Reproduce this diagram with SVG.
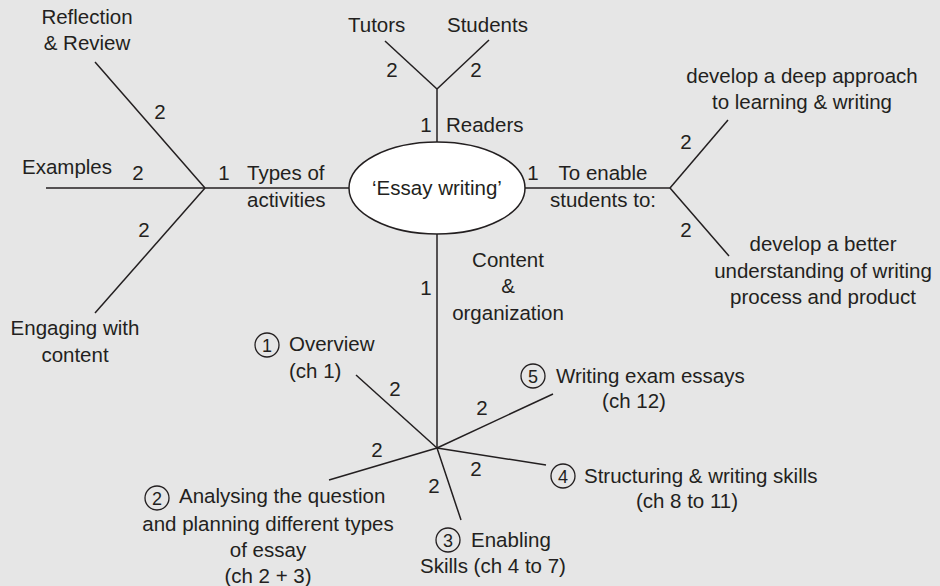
<svg xmlns="http://www.w3.org/2000/svg" width="940" height="586" viewBox="0 0 940 586">
<style>
text{font-family:"Liberation Sans",Arial,sans-serif;font-size:20.5px;fill:#231f20}
.c{text-anchor:middle}
.d{text-anchor:middle;font-size:18px}
.ln{stroke:#231f20;stroke-width:1.5;fill:none}
.cir{stroke:#231f20;stroke-width:1.3;fill:none}
</style>
<rect width="940" height="586" fill="#e6e6e6"/>
<g id="connectors">
<line class="ln" x1="349" y1="188" x2="205" y2="188"/>
<line class="ln" x1="46" y1="188" x2="205" y2="188"/>
<line class="ln" x1="95" y1="62" x2="205" y2="188"/>
<line class="ln" x1="205" y1="188" x2="95" y2="313"/>
<line class="ln" x1="437" y1="142" x2="437" y2="89"/>
<line class="ln" x1="385" y1="41" x2="437" y2="89"/>
<line class="ln" x1="437" y1="89" x2="489" y2="40"/>
<line class="ln" x1="525" y1="188" x2="670" y2="188"/>
<line class="ln" x1="670" y1="188" x2="728" y2="120"/>
<line class="ln" x1="670" y1="188" x2="729" y2="256"/>
<line class="ln" x1="437" y1="234" x2="437" y2="448"/>
<line class="ln" x1="356" y1="375" x2="437" y2="448"/>
<line class="ln" x1="437" y1="448" x2="329" y2="480"/>
<line class="ln" x1="437" y1="448" x2="461" y2="520"/>
<line class="ln" x1="437" y1="448" x2="546" y2="465"/>
<line class="ln" x1="437" y1="448" x2="553" y2="394"/>
</g>
<g id="labels">
<text class="c" x="160" y="119">2</text>
<text class="c" x="138" y="180">2</text>
<text class="c" x="144" y="237">2</text>
<text class="c" x="224" y="180">1</text>
<text class="c" x="392" y="77">2</text>
<text class="c" x="476" y="77">2</text>
<text class="c" x="426" y="132">1</text>
<text class="c" x="533" y="180">1</text>
<text class="c" x="686" y="149">2</text>
<text class="c" x="686" y="237">2</text>
<text class="c" x="426" y="295">1</text>
<text class="c" x="395" y="396">2</text>
<text class="c" x="377" y="457">2</text>
<text class="c" x="434" y="493">2</text>
<text class="c" x="476" y="476">2</text>
<text class="c" x="482" y="415">2</text>
</g>
<g id="essay-writing">
<ellipse cx="437" cy="188" rx="88" ry="46" fill="#ffffff" stroke="#231f20" stroke-width="1.5"/>
<text class="c" x="437" y="195">‘Essay writing’</text>
</g>
<g id="types-of-activities">
<text x="247" y="180">Types of</text>
<text x="247" y="207">activities</text>
</g>
<g id="reflection">
<text class="c" x="87" y="24">Reflection</text>
<text class="c" x="87" y="50">&amp; Review</text>
</g>
<g id="examples">
<text x="22" y="174">Examples</text>
</g>
<g id="engaging">
<text class="c" x="75" y="335">Engaging with</text>
<text class="c" x="75" y="362">content</text>
</g>
<g id="readers">
<text x="446" y="132">Readers</text>
</g>
<g id="tutors">
<text x="348" y="32">Tutors</text>
</g>
<g id="students">
<text x="447" y="32">Students</text>
</g>
<g id="to-enable">
<text class="c" x="603" y="180">To enable</text>
<text class="c" x="603" y="207">students to:</text>
</g>
<g id="deep-approach">
<text class="c" x="802" y="83">develop a deep approach</text>
<text class="c" x="802" y="109">to learning &amp; writing</text>
</g>
<g id="better-understanding">
<text class="c" x="823" y="251">develop a better</text>
<text class="c" x="823" y="278">understanding of writing</text>
<text class="c" x="823" y="304">process and product</text>
</g>
<g id="content-organization">
<text class="c" x="508" y="267">Content</text>
<text class="c" x="508" y="293">&amp;</text>
<text class="c" x="508" y="320">organization</text>
</g>
<g id="overview">
<circle class="cir" cx="267" cy="345" r="12"/>
<text class="d" x="267" y="351.5">1</text>
<text x="289" y="351">Overview</text>
<text x="289" y="378">(ch 1)</text>
</g>
<g id="analysing">
<circle class="cir" cx="157" cy="498" r="12"/>
<text class="d" x="157" y="504.5">2</text>
<text x="179" y="503">Analysing the question</text>
<text class="c" x="268" y="531">and planning different types</text>
<text class="c" x="268" y="557">of essay</text>
<text class="c" x="268" y="583">(ch 2 + 3)</text>
</g>
<g id="enabling">
<circle class="cir" cx="448" cy="540" r="12"/>
<text class="d" x="448" y="546.5">3</text>
<text x="471" y="547">Enabling</text>
<text class="c" x="493" y="573">Skills (ch 4 to 7)</text>
</g>
<g id="structuring">
<circle class="cir" cx="563" cy="476" r="12"/>
<text class="d" x="563" y="482.5">4</text>
<text x="584" y="483">Structuring &amp; writing skills</text>
<text class="c" x="687" y="508">(ch 8 to 11)</text>
</g>
<g id="exam-essays">
<circle class="cir" cx="533" cy="376" r="12"/>
<text class="d" x="533" y="382.5">5</text>
<text x="556" y="383">Writing exam essays</text>
<text class="c" x="634" y="408">(ch 12)</text>
</g>
</svg>
